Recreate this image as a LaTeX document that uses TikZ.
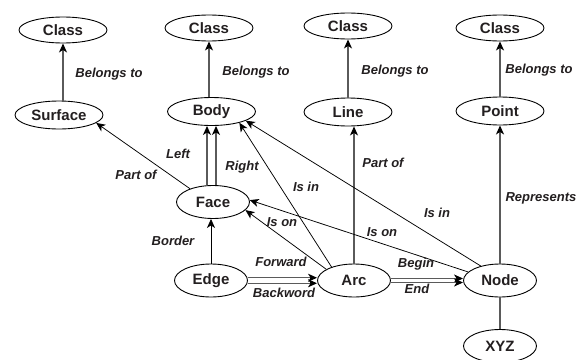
\documentclass[tikz,border=0pt]{standalone}
\usepackage{fontspec}
\setmainfont{Liberation Sans}
\usetikzlibrary{arrows.meta,shapes.geometric,calc}
\definecolor{txt}{HTML}{231F20}
\definecolor{linegray}{HTML}{5A5A5A}

\begin{document}
\begin{tikzpicture}[x=1pt,y=-1pt,
  >={Stealth[length=9pt,width=8pt,inset=2.5pt,color=black]},
  ent/.style={ellipse,draw=black,line width=0.9pt,inner sep=0pt,
    font=\bfseries\fontsize{15}{17}\selectfont,text=txt},
  topent/.style={ent,minimum width=88pt,minimum height=26pt},
  mident/.style={ent,minimum width=88pt,minimum height=28pt},
  lowent/.style={ent,minimum width=73pt,minimum height=33pt},
  lbl/.style={font=\bfseries\itshape\fontsize{13}{15}\selectfont,text=txt,inner sep=0pt},
  gline/.style={draw=linegray,line width=1.1pt},
  bline/.style={draw=black,line width=0.75pt},
]
\useasboundingbox[fill=white] (0,0) rectangle (586,359);

% classes
\node[topent] (c1) at (63,30)  {Class};
\node[topent] (c2) at (209,28) {Class};
\node[topent] (c3) at (348,26) {Class};
\node[topent] (c4) at (500,28) {Class};

% geometric entities
\node[mident] (surf)  at (59,115)    {Surface};
\node[mident] (body)  at (211.5,111.5) {Body};
\node[mident] (line)  at (348,112)   {Line};
\node[mident] (point) at (500,111)   {Point};

% topological entities
\node[lowent] (face) at (213,202)   {Face};
\node[lowent] (edge) at (211,280.5) {Edge};
\node[lowent] (arc)  at (354,280.5) {Arc};
\node[lowent] (nd)   at (500,280.5) {Node};
\node[lowent] (xyz)  at (500,346)   {XYZ};

% belongs to
\draw[gline,->] (c1.south |- surf.north) -- (c1.south);
\draw[gline,->] (c2.south |- body.north) -- (c2.south);
\draw[gline,->] (line) -- (c3);
\draw[gline,->] (point) -- (c4);

% face to body (left / right)
\coordinate (bl) at ([xshift=-4.5pt]body.south);
\coordinate (br) at ([xshift=4.5pt]body.south);
\draw[gline,->] (bl |- face.north) -- (bl);
\draw[gline,->] (br |- face.north) -- (br);

% face part of surface
\draw[bline,->] (face.150) -- (surf.-12);

% edge border of face
\draw[bline,->] (edge.north) -- (edge.north |- face.south);

% arc relations
\draw[bline,->] (arc.149) -- (body.-22);
\draw[bline,->] (arc.158) -- (face.-14);
\draw[gline,->] (arc.north) -- (arc.north |- line.south);

% node relations
\draw[bline,->] (nd.143) -- (body.-15);
\draw[bline,->] (nd.165) -- (face.3);
\draw[gline,->] (nd.north) -- (point.south);
\draw[gline] (nd.south) -- (xyz.north);

% double connections along the bottom row
\draw[gline,->] ([yshift=2.75pt]edge.east) -- ([yshift=2.75pt]arc.west);
\draw[gline,->] ([yshift=-2.75pt]edge.east) -- ([yshift=-2.75pt]arc.west);
\draw[gline,->] ([yshift=2pt]arc.east) -- ([yshift=2pt]nd.west);
\draw[gline,->] ([yshift=-2pt]arc.east) -- ([yshift=-2pt]nd.west);

% labels
\node[lbl] (l1)  at (109,74)  {Belongs to};
\node[lbl] (l2)  at (256,72)  {Belongs to};
\node[lbl] (l3)  at (395,71)  {Belongs to};
\node[lbl] (l4)  at (539,70)  {Belongs to};
\node[lbl] (l5)  at (136,175) {Part of};
\node[lbl] (l6)  at (178,154) {Left};
\node[lbl] (l7)  at (242,167) {Right};
\node[lbl] (l8)  at (306,187) {Is in};
\node[lbl] (l9)  at (383,163) {Part of};
\node[lbl] (l10) at (437,213) {Is in};
\node[lbl] (l11) at (541,198) {Represents};
\node[lbl] (l12) at (282,222) {Is on};
\node[lbl] (l13) at (382,232) {Is on};
\node[lbl] (l14) at (173,241) {Border};
\node[lbl] (l15) at (281,262) {Forward};
\node[lbl] (l16) at (284,293) {Backword};
\node[lbl] (l17) at (416,264) {Begin};
\node[lbl] (l18) at (417,289) {End};
\end{tikzpicture}
\end{document}
